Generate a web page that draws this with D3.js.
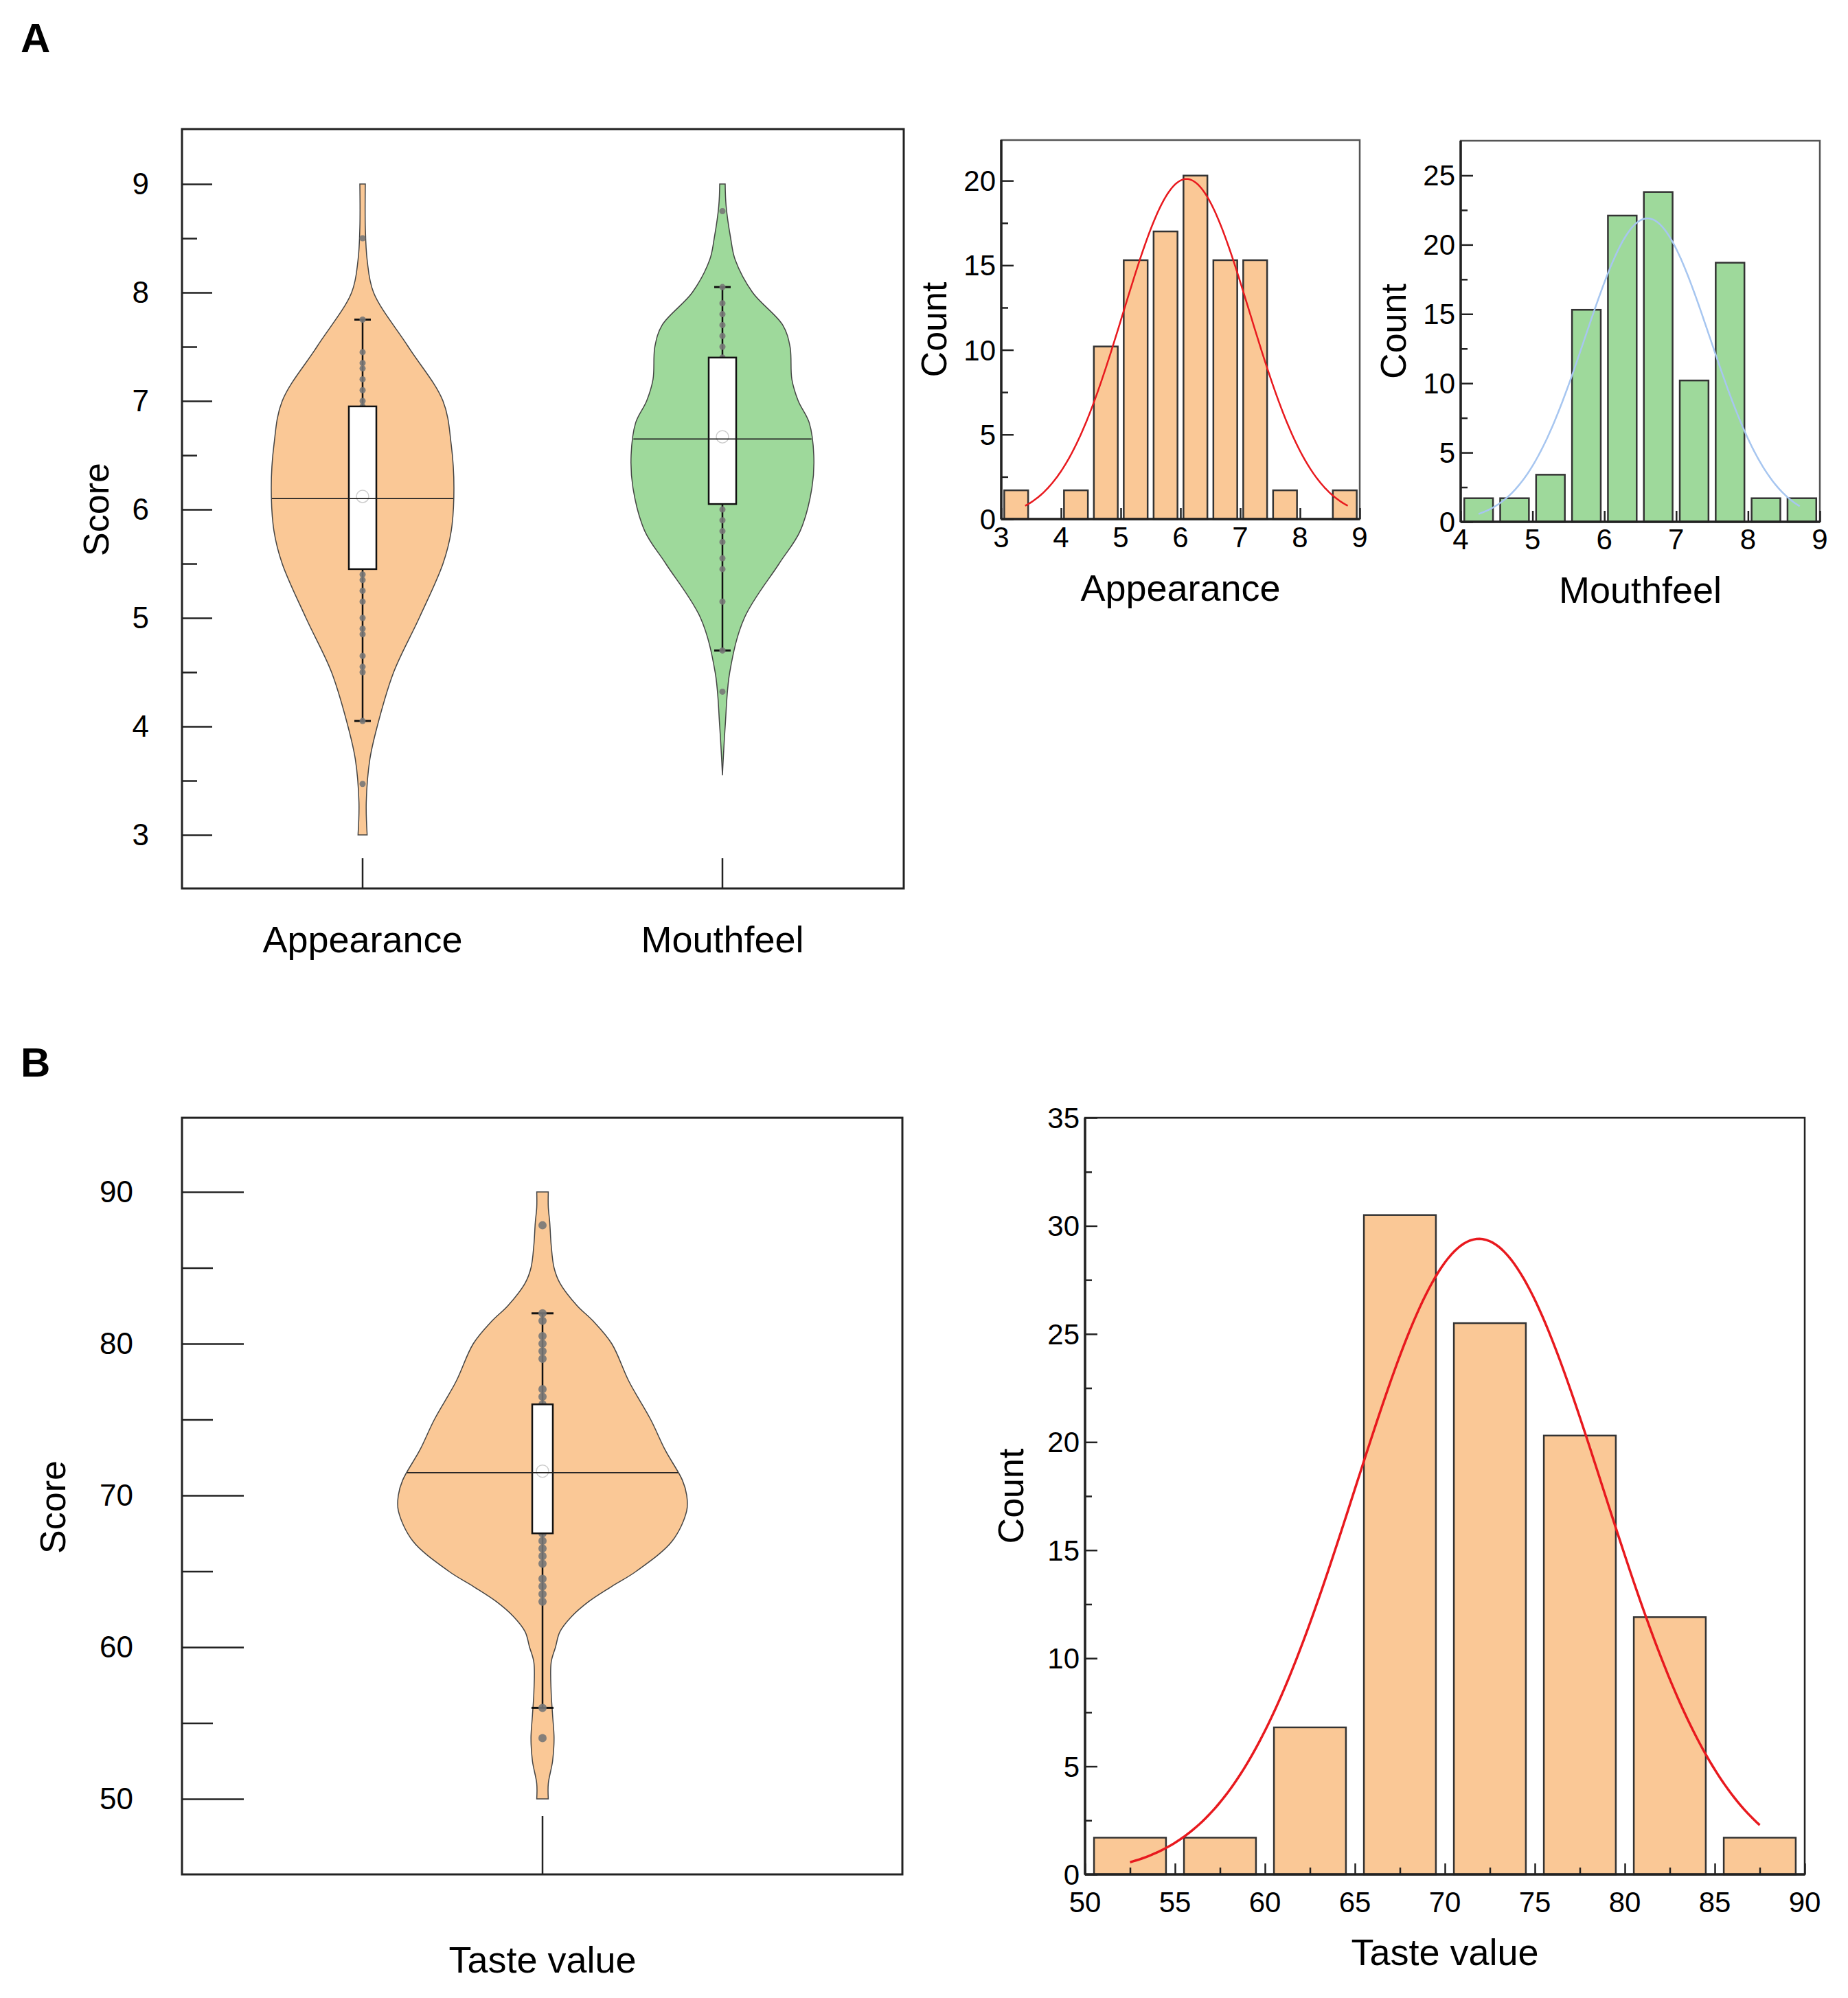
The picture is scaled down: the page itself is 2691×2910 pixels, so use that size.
<!DOCTYPE html>
<html><head><meta charset="utf-8">
<script src="https://cdn.jsdelivr.net/npm/d3@7"></script>
<style>body{margin:0;background:#fff}text{font-family:Arial,"Liberation Sans",sans-serif}</style>
</head><body><svg id="c" width="2691" height="2910"></svg>
<script>
// ---------- DATA ----------
const violinCats = ["Appearance","Mouthfeel"];
const appProfile = [[3.0,0.05],[3.3,0.04],[3.7,0.08],[4.0,0.16],[4.5,0.34],[5.0,0.62],[5.5,0.88],[5.8,0.97],[6.2,1.0],[6.6,0.97],[7.0,0.88],[7.5,0.5],[8.0,0.12],[8.3,0.05],[8.6,0.03],[9.0,0.03]];
const mouProfile = [[3.55,0.0],[4.0,0.03],[4.5,0.08],[5.0,0.24],[5.5,0.62],[5.8,0.85],[6.2,0.98],[6.5,1.0],[6.8,0.95],[7.0,0.83],[7.2,0.76],[7.5,0.74],[7.7,0.66],[8.0,0.33],[8.3,0.14],[8.5,0.09],[8.8,0.04],[9.0,0.03]];
const appBox = {q1:5.45,q3:6.95,line:6.1,mean:6.12,lo:4.05,hi:7.75};
const mouBox = {q1:6.05,q3:7.4,line:6.65,mean:6.67,lo:4.7,hi:8.05};
const appDots = [3.47,4.05,4.5,4.55,4.65,4.85,4.9,5.0,5.15,5.25,5.35,5.4,5.5,6.95,7.0,7.1,7.2,7.3,7.35,7.45,7.75,8.5];
const mouDots = [4.32,4.7,5.15,5.45,5.55,5.7,5.8,5.9,6.0,7.4,7.5,7.6,7.7,7.8,7.9,8.05,8.75];
const tasteProfile = [[50,0.04],[51,0.04],[52.5,0.07],[54,0.08],[55.5,0.07],[57,0.06],[59,0.06],[60,0.09],[61,0.12],[62,0.2],[63,0.32],[64,0.48],[65,0.65],[67,0.9],[69,1.0],[70,1.0],[71,0.97],[73,0.85],[75,0.75],[77.5,0.6],[80,0.48],[81.5,0.35],[82.5,0.24],[84,0.12],[85,0.08],[86.5,0.06],[88,0.05],[89,0.04],[90,0.04]];
const tasteBox = {q1:67.5,q3:76,line:71.5,mean:71.6,lo:56,hi:82};
const tasteDots = [54,56,63,63.5,64,64.5,65.5,66,66.5,67,67.5,76,76.5,77,79,79.5,80,80.5,81.5,82,87.8];

const appBinStarts = [3.0,4.0,4.5,5.0,5.5,6.0,6.5,7.0,7.5,8.5];
const appCounts    = [1.7,1.7,10.2,15.3,17,20.3,15.3,15.3,1.7,1.7];
const appFit = {peak:20.1, mu:6.1, sigma:1.06, from:3.4, to:8.8};
const mouBinStarts = [4.0,4.5,5.0,5.5,6.0,6.5,7.0,7.5,8.0,8.5];
const mouCounts    = [1.7,1.7,3.4,15.3,22.1,23.8,10.2,18.7,1.7,1.7];
const mouFit = {peak:21.9, mu:6.6, sigma:0.87, from:4.25, to:8.72};
const tasteBinStarts = [50,55,60,65,70,75,80,85];
const tasteCounts    = [1.7,1.7,6.8,30.5,25.5,20.3,11.9,1.7];
const tasteFit = {peak:29.4, mu:71.9, sigma:6.9, from:52.5, to:87.5};

const orange="#FAC896", green="#9ED99B";
// ---------- DRAW ----------
const svg=d3.select("#c");
svg.append("text").attr("x",30).attr("y",76).attr("font-size",60).attr("font-weight","bold").text("A");
svg.append("text").attr("x",30).attr("y",1568).attr("font-size",60).attr("font-weight","bold").text("B");

function violinPanel(o){
  const g=svg.append("g");
  const y=d3.scaleLinear().domain(o.ydom).range(o.yr);
  const x=d3.scalePoint().domain(o.cats).range(o.xr);
  g.append("rect").attr("x",o.L).attr("y",o.T).attr("width",o.R-o.L).attr("height",o.B-o.T).attr("fill","none").attr("stroke","#222").attr("stroke-width",3);
  const style=s=>{s.select(".domain").remove();s.selectAll("line").attr("stroke","#222").attr("stroke-width",2.5);};
  g.append("g").attr("transform",`translate(${o.L},0)`).call(d3.axisRight(y).tickValues(o.major).tickSize(o.majLen).tickFormat("")).call(style);
  g.append("g").attr("transform",`translate(${o.L},0)`).call(d3.axisRight(y).tickValues(o.minor).tickSize(o.minLen).tickFormat("")).call(style);
  o.major.forEach(v=>g.append("text").attr("x",o.labX).attr("y",y(v)+15).attr("text-anchor","end").attr("font-size",44).text(v));
  g.append("text").attr("transform",`translate(${o.scoreX},${o.scoreY}) rotate(-90)`).attr("text-anchor","middle").attr("font-size",52).text("Score");
  o.items.forEach((it,i)=>{
    const cx=x(it.name);
    const area=d3.area().curve(d3.curveCatmullRom).y(d=>y(d[0])).x0(d=>cx-d[1]*o.halfW).x1(d=>cx+d[1]*o.halfW);
    g.append("path").datum(it.prof).attr("d",area).attr("fill",it.color).attr("stroke","#444").attr("stroke-width",1.5);
    g.append("line").attr("x1",cx).attr("x2",cx).attr("y1",y(it.box.lo)).attr("y2",y(it.box.hi)).attr("stroke","#111").attr("stroke-width",2.5);
    [it.box.lo,it.box.hi].forEach(v=>g.append("line").attr("x1",cx-o.capW).attr("x2",cx+o.capW).attr("y1",y(v)).attr("y2",y(v)).attr("stroke","#111").attr("stroke-width",3));
    g.selectAll(null).data(it.dots).join("circle").attr("cx",cx).attr("cy",d=>y(d)).attr("r",o.dotR).attr("fill","#777").attr("opacity",0.9);
    g.append("rect").attr("x",cx-o.boxW).attr("width",2*o.boxW).attr("y",y(it.box.q3)).attr("height",y(it.box.q1)-y(it.box.q3)).attr("fill","#fff").attr("stroke","#111").attr("stroke-width",2.5);
    g.append("circle").attr("cx",cx).attr("cy",y(it.box.mean)).attr("r",9).attr("fill","none").attr("stroke","#ccc").attr("stroke-width",1.5);
    const w=d3.scaleLinear().domain(it.prof.map(d=>d[0])).range(it.prof.map(d=>d[1]))(it.box.line)*o.halfW;
    g.append("line").attr("x1",cx-w).attr("x2",cx+w).attr("y1",y(it.box.line)).attr("y2",y(it.box.line)).attr("stroke","#222").attr("stroke-width",1.8);
    g.append("line").attr("x1",cx).attr("x2",cx).attr("y1",o.catTick).attr("y2",o.B).attr("stroke","#222").attr("stroke-width",2.5);
    g.append("text").attr("x",cx).attr("y",o.catLabY).attr("text-anchor","middle").attr("font-size",54).text(it.label);
  });
}
violinPanel({L:265,R:1316,T:188,B:1294,ydom:[3,9],yr:[1216,268],cats:violinCats,xr:[528,1052],
  major:[3,4,5,6,7,8,9],minor:[3.5,4.5,5.5,6.5,7.5,8.5],majLen:44,minLen:22,labX:217,scoreX:158,scoreY:742,halfW:133,boxW:20,capW:12,dotR:4.5,
  catTick:1250,catLabY:1387,
  items:[{name:"Appearance",label:"Appearance",prof:appProfile,box:appBox,dots:appDots,color:orange},
         {name:"Mouthfeel",label:"Mouthfeel",prof:mouProfile,box:mouBox,dots:mouDots,color:green}]});
violinPanel({L:265,R:1314,T:1628,B:2730,ydom:[50,90],yr:[2620,1736],cats:["Taste value"],xr:[790,790],
  major:[50,60,70,80,90],minor:[55,65,75,85],majLen:90,minLen:45,labX:194,scoreX:95,scoreY:2195,halfW:210,boxW:15,capW:16,dotR:6,
  catTick:2645,catLabY:2873,
  items:[{name:"Taste value",label:"Taste value",prof:tasteProfile,box:tasteBox,dots:tasteDots,color:orange}]});

function hist(o){
  const g=svg.append("g");
  const x=d3.scaleLinear().domain(o.xdom).range([o.L,o.R]);
  const y=d3.scaleLinear().domain([0,o.ymax]).range([o.B,o.T]);
  g.selectAll(null).data(o.starts).join("rect")
    .attr("x",(d)=>x(d+o.gap)).attr("width",d=>x(d+o.bw-o.gap)-x(d+o.gap))
    .attr("y",(d,i)=>y(o.counts[i])).attr("height",(d,i)=>o.B-y(o.counts[i]))
    .attr("fill",o.color).attr("stroke","#333").attr("stroke-width",2.5);
  const pts=d3.range(0,201).map(i=>{const v=o.fit.from+(o.fit.to-o.fit.from)*i/200;return [v,o.fit.peak*Math.exp(-((v-o.fit.mu)**2)/(2*o.fit.sigma**2))];});
  g.append("path").datum(pts).attr("d",d3.line().x(d=>x(d[0])).y(d=>y(d[1]))).attr("fill","none").attr("stroke",o.curve).attr("stroke-width",o.cw);
  g.append("rect").attr("x",o.L).attr("y",o.T).attr("width",o.R-o.L).attr("height",o.B-o.T).attr("fill","none").attr("stroke",o.frame).attr("stroke-width",2.5);
  g.append("line").attr("x1",o.L).attr("x2",o.R).attr("y1",o.B).attr("y2",o.B).attr("stroke","#222").attr("stroke-width",3.5);
  g.append("line").attr("x1",o.L).attr("x2",o.L).attr("y1",o.T).attr("y2",o.B).attr("stroke","#222").attr("stroke-width",3.5);
  const style=s=>{s.select(".domain").remove();s.selectAll("line").attr("stroke","#222").attr("stroke-width",2.5);};
  g.append("g").attr("transform",`translate(${o.L},0)`).call(d3.axisRight(y).tickValues(o.yt).tickSize(18).tickFormat("")).call(style);
  g.append("g").attr("transform",`translate(${o.L},0)`).call(d3.axisRight(y).tickValues(o.ym).tickSize(10).tickFormat("")).call(style);
  g.append("g").attr("transform",`translate(0,${o.B})`).call(d3.axisTop(x).tickValues(o.xt).tickSize(16).tickFormat("")).call(style);
  g.append("g").attr("transform",`translate(0,${o.B})`).call(d3.axisTop(x).tickValues(o.xm).tickSize(10).tickFormat("")).call(style);
  o.yt.forEach(v=>g.append("text").attr("x",o.L-8).attr("y",y(v)+15).attr("text-anchor","end").attr("font-size",o.fs).text(v));
  o.xt.forEach(v=>g.append("text").attr("x",x(v)).attr("y",o.xlabY).attr("text-anchor","middle").attr("font-size",o.fs).text(v));
  g.append("text").attr("transform",`translate(${o.cX},${(o.T+o.B)/2}) rotate(-90)`).attr("text-anchor","middle").attr("font-size",52).text("Count");
  g.append("text").attr("x",(o.L+o.R)/2).attr("y",o.labY).attr("text-anchor","middle").attr("font-size",54).text(o.label);
}
hist({L:1458,R:1980,T:204,B:756,xdom:[3,9],ymax:22.4,starts:appBinStarts,counts:appCounts,bw:0.5,gap:0.05,color:orange,fit:appFit,curve:"#E8191E",cw:2.5,frame:"#555",
  yt:[0,5,10,15,20],ym:[2.5,7.5,12.5,17.5],xt:[3,4,5,6,7,8,9],xm:[],fs:42,cX:1378,xlabY:797,labY:875,label:"Appearance"});
hist({L:2127,R:2650,T:205,B:760,xdom:[4,9],ymax:27.5,starts:mouBinStarts,counts:mouCounts,bw:0.5,gap:0.05,color:green,fit:mouFit,curve:"#A7C6F0",cw:2.5,frame:"#555",
  yt:[0,5,10,15,20,25],ym:[2.5,7.5,12.5,17.5,22.5],xt:[4,5,6,7,8,9],xm:[],fs:42,cX:2047,xlabY:800,labY:878,label:"Mouthfeel"});
hist({L:1580,R:2628,T:1628,B:2730,xdom:[50,90],ymax:35,starts:tasteBinStarts,counts:tasteCounts,bw:5,gap:0.5,color:orange,fit:tasteFit,curve:"#E8191E",cw:3.5,frame:"#222",
  yt:[0,5,10,15,20,25,30,35],ym:[2.5,7.5,12.5,17.5,22.5,27.5,32.5],xt:[50,55,60,65,70,75,80,85,90],xm:[52.5,57.5,62.5,67.5,72.5,77.5,82.5,87.5],fs:42,cX:1490,xlabY:2785,labY:2862,label:"Taste value"});
</script></body></html>
